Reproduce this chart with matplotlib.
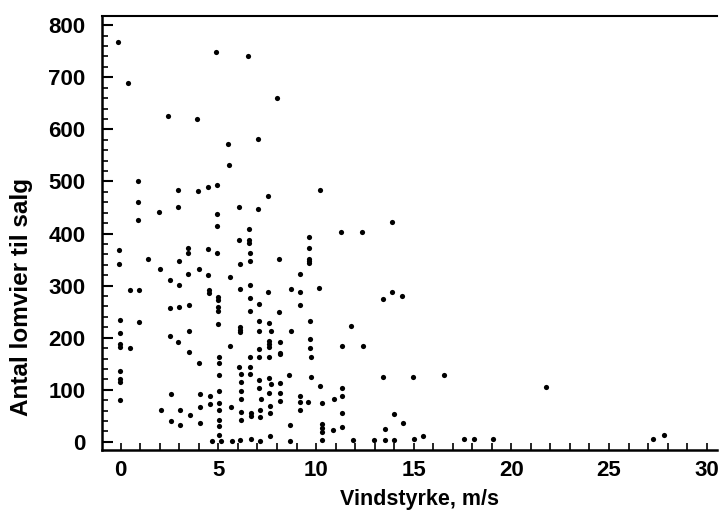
import numpy as np
import matplotlib
matplotlib.use("Agg")
import matplotlib.pyplot as plt
from matplotlib.ticker import MultipleLocator

plt.rcParams['font.family'] = ['Liberation Sans', 'DejaVu Sans']

# wind speed (m/s) and number of guillemots for sale
vind = [
    -0.15, 4.9, 6.5, 0.35, 8.0, 2.4, 3.9, 7.05, 5.5, 5.55, 0.9, 2.95, 3.95, 4.45, 4.95,
    7.55, 0.9, 2.95, 1.95, 4.95, 6.05, 7.05, 0.9, 4.95, 6.55, 10.2, 13.88,
    6.05, 6.55, 6.55, 9.65, 9.65, 11.26,
    -0.1, 3.45, 4.45,
    3.45, 4.95, -0.1, 1.4, 3.0, 2.0, 4.0, 3.45, 4.45, 2.5, 3.0, 0.45, 0.95, 4.5, 4.5,
    5.0, 5.0, 2.5, 3.0, 3.5, 5.0, 5.0, -0.05, 0.95, 5.0, -0.05, 2.5, 3.5, 2.95, -0.05,
    -0.05, 0.45, 3.5,
    6.6, 6.6, 6.1, 8.1, 9.65, 9.65, 9.65, 5.6, 9.2, 6.6, 6.1, 8.7, 10.15, 7.55, 9.2,
    6.6, 7.1, 9.2, 6.6, 8.1, 7.1, 7.6, 9.7, 6.1, 6.1, 6.1, 7.1, 7.7, 8.7, 9.7, 5.6,
    7.6, 7.6, 7.6, 8.15, 9.7, 11.35, 7.1, 8.15,
    4.0, 5.05, 5.05, -0.05, -0.05, -0.05, 5.05, 5.05, 2.55, 4.05, 4.55, -0.05, 5.05,
    4.05, 4.55, 2.05, 3.05, 5.05, 3.55, 2.55, 3.05, 4.05, 5.05, 5.05, 5.05, 4.65, 5.15,
    6.6, 7.1, 7.6, 8.15, 9.75, 6.05, 6.6, 6.6, 6.15, 8.6, 7.6, 7.7, 9.75, 6.15, 7.1,
    8.15, 10.2, 6.15, 7.1, 7.6, 8.15, 11.35, 6.15, 7.2, 9.2, 9.2, 9.2, 9.6, 10.32,
    10.94, 11.35, 8.15, 5.65, 6.15, 6.65, 6.65, 7.15, 7.15, 7.65, 7.65, 6.15, 8.65,
    10.32, 10.32, 10.32, 10.85, 11.35, 5.7, 6.1, 6.65, 7.15, 7.65, 8.65, 10.32,
    12.37, 13.89, 13.45, 14.4, 11.79, 12.42, 13.45, 14.95, 16.55, 11.35, 13.98, 14.45,
    13.52, 15.48, 11.88, 12.97, 13.52, 13.99, 15.0, 17.58, 18.09, 19.08,
    21.76, 27.27, 27.8,
]
antal = [
    768, 749, 740, 689, 661, 626, 620, 581, 571, 531, 500, 484, 482, 490, 494,
    472, 460, 451, 441, 437, 451, 447, 426, 414, 408, 483, 423,
    387, 387, 382, 393, 373, 403,
    368, 372, 371,
    362, 363, 341, 351, 347, 331, 332, 322, 320, 311, 302, 291, 291, 291, 286,
    278, 273, 257, 259, 262, 259, 252, 234, 231, 227, 209, 204, 213, 191, 187,
    182, 181, 172,
    362, 347, 342, 352, 352, 347, 343, 316, 322, 302, 293, 293, 296, 287, 288,
    277, 264, 263, 252, 250, 232, 229, 232, 221, 215, 210, 212, 213, 213, 198, 184,
    193, 187, 182, 192, 181, 184, 178, 170,
    152, 162, 152, 136, 120, 114, 128, 98, 91, 92, 88, 80, 74,
    66, 72, 61, 61, 61, 51, 40, 33, 37, 42, 30, 13, 2, 2,
    162, 162, 162, 168, 163, 144, 143, 131, 130, 128, 123, 112, 124, 114, 119,
    113, 108, 98, 103, 93, 93, 103, 82, 82, 88, 76, 61, 77, 74,
    83, 88, 78, 67, 58, 55, 50, 61, 48, 69, 55, 42, 32,
    35, 27, 19, 22, 29, 2, 3, 6, 2, 12, 2, 3,
    403, 288, 274, 281, 223, 184, 124, 124, 129, 55, 54, 37,
    24, 12, 3, 3, 3, 3, 6, 5, 5, 5,
    106, 6, 14,
]

fig = plt.figure(figsize=(7.21, 5.29), dpi=100)
ax = fig.add_axes([0.1415, 0.149, 0.853, 0.821])

ax.scatter(vind, antal, s=14, c='black', linewidths=0)

ax.set_xlim(-0.957, 30.53)
ax.set_ylim(-16, 818)

ax.xaxis.set_major_locator(MultipleLocator(5))
ax.xaxis.set_minor_locator(MultipleLocator(1))
ax.yaxis.set_major_locator(MultipleLocator(100))
ax.yaxis.set_minor_locator(MultipleLocator(20))

ax.tick_params(axis='x', which='both', direction='in', length=5, width=1.2,
               top=False, pad=7, labelsize=16)
ax.tick_params(axis='y', which='major', direction='in', length=8, width=1.5,
               right=False, pad=12, labelsize=16)
ax.tick_params(axis='y', which='minor', direction='in', length=4, width=1.2,
               right=False)
for lab in ax.get_xticklabels() + ax.get_yticklabels():
    lab.set_fontweight('bold')

ax.spines['right'].set_visible(False)
ax.spines['left'].set_linewidth(1.8)
ax.spines['bottom'].set_linewidth(1.8)
ax.spines['top'].set_linewidth(1.5)

ax.set_xlabel('Vindstyrke, m/s', fontsize=15.5, fontweight='bold')
ax.set_ylabel('Antal lomvier til salg', fontsize=17.5, fontweight='bold')
ax.xaxis.set_label_coords(0.517, -0.090)
ax.yaxis.set_label_coords(-0.113, 0.352)

fig.savefig('out.png', dpi=100)
